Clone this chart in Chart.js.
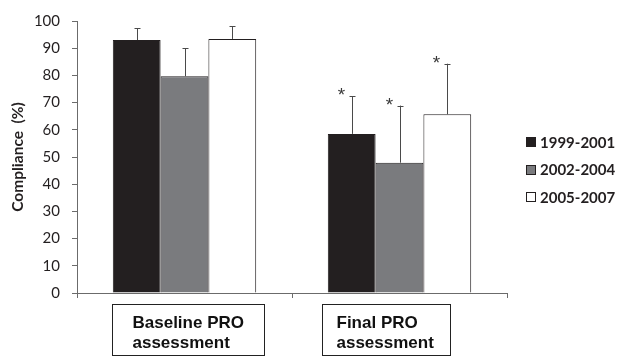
<!DOCTYPE html>
<html>
<head>
<meta charset="utf-8">
<script src="https://cdn.jsdelivr.net/npm/chart.js@4.4.1/dist/chart.umd.min.js"></script>
<style>
  html, body { margin: 0; padding: 0; background: #fff; }
  #wrap { width: 618px; height: 358px; position: relative; }
</style>
</head>
<body>
<div id="wrap"><canvas id="c"></canvas></div>
<script>
// categories (each label is two lines, drawn inside a box under the axis)
const categories = [["Baseline PRO", "assessment"], ["Final PRO", "assessment"]];
const seriesLabels = ["1999-2001", "2002-2004", "2005-2007"];

// mean compliance (%) per category
const values1999 = [93.0, 58.5];
const values2002 = [79.7, 47.9];
const values2005 = [93.4, 65.7];

// upper error bar (SD) per category
const err1999 = [4.3, 13.9];
const err2002 = [10.2, 21.0];
const err2005 = [4.7, 18.6];

// significance markers (*) per category
const sig1999 = [false, true];
const sig2002 = [false, true];
const sig2005 = [false, true];

const yMin = 0, yMax = 100, yStep = 10;

const INK = "#231f20";
const AXIS = "#6b6b6b";

const datasets = [
  { label: seriesLabels[0], data: values1999, err: err1999, sig: sig1999, backgroundColor: "#231f20" },
  { label: seriesLabels[1], data: values2002, err: err2002, sig: sig2002, backgroundColor: "#7a7b7e" },
  { label: seriesLabels[2], data: values2005, err: err2005, sig: sig2005, backgroundColor: "#ffffff" }
].map(d => Object.assign(d, { borderColor: INK, borderWidth: 1, borderSkipped: "bottom" }));

// error bars (upward only) + asterisks
const errorBars = {
  id: "errorBars",
  afterDatasetsDraw(chart) {
    const ctx = chart.ctx;
    const y = chart.scales.y;
    ctx.save();
    chart.data.datasets.forEach((ds, i) => {
      chart.getDatasetMeta(i).data.forEach((bar, j) => {
        const top = y.getPixelForValue(ds.data[j] + ds.err[j]);
        const x = Math.round(bar.x) + 0.5;
        ctx.strokeStyle = "#4a4a4a";
        ctx.lineWidth = 1;
        ctx.beginPath();
        ctx.moveTo(x, bar.y);
        ctx.lineTo(x, top);
        ctx.moveTo(x - 3, Math.round(top) + 0.5);
        ctx.lineTo(x + 3, Math.round(top) + 0.5);
        ctx.stroke();
        if (ds.sig[j]) {
          ctx.fillStyle = "#3a3a3a";
          ctx.font = "19px 'Liberation Sans'";
          ctx.textAlign = "center";
          ctx.textBaseline = "alphabetic";
          ctx.fillText("*", x - 11, top + 5);
        }
      });
    });
    ctx.restore();
  }
};

// boxed category labels under the x axis
const boxedLabels = {
  id: "boxedLabels",
  afterDraw(chart) {
    const ctx = chart.ctx;
    const x = chart.scales.x;
    const boxLeft = [-73, -78];   // offset of box from category centre
    const boxWidth = [152, 128];
    const textPad = [20, 14];
    ctx.save();
    ctx.font = "bold 17px 'Liberation Sans'";
    ctx.fillStyle = "#111";
    ctx.strokeStyle = "#222";
    ctx.lineWidth = 1;
    ctx.textAlign = "left";
    ctx.textBaseline = "alphabetic";
    categories.forEach((lines, i) => {
      const cx = x.getPixelForValue(i);
      const left = Math.round(cx + boxLeft[i]) + 0.5;
      const top = chart.chartArea.bottom + 11.5;
      ctx.strokeRect(left, top, boxWidth[i], 51);
      lines.forEach((t, k) => {
        ctx.fillText(t, left + textPad[i], top + 23 + k * 20);
      });
    });
    ctx.restore();
  }
};

// legend to the right of the plot
const sideLegend = {
  id: "sideLegend",
  afterDraw(chart) {
    const ctx = chart.ctx;
    const x0 = chart.chartArea.right + 19;
    ctx.save();
    ctx.font = "bold 15px Lato";
    ctx.textBaseline = "middle";
    ctx.textAlign = "left";
    chart.data.datasets.forEach((ds, i) => {
      const cy = 142 + i * 27.5;
      ctx.fillStyle = ds.backgroundColor;
      ctx.fillRect(x0, Math.round(cy - 5), 10, 10);
      ctx.strokeStyle = INK;
      ctx.lineWidth = 1;
      ctx.strokeRect(x0 + 0.5, Math.round(cy - 5) + 0.5, 9, 9);
      ctx.fillStyle = INK;
      ctx.fillText(ds.label, x0 + 14, cy + 1);
    });
    ctx.restore();
  }
};

new Chart(document.getElementById("c"), {
  type: "bar",
  data: { labels: categories, datasets },
  plugins: [errorBars, boxedLabels, sideLegend],
  options: {
    responsive: true,
    maintainAspectRatio: false,
    animation: false,
    layout: { padding: { top: 11, right: 111, bottom: 0, left: 0 } },
    plugins: { legend: { display: false }, tooltip: { enabled: false } },
    datasets: { bar: { categoryPercentage: 0.667, barPercentage: 1 } },
    scales: {
      x: {
        ticks: { display: false },
        grid: { drawOnChartArea: false, drawTicks: true, tickLength: 5, color: AXIS },
        border: { color: AXIS, width: 1 },
        afterFit(scale) { scale.height = 65; }
      },
      y: {
        min: yMin,
        max: yMax,
        ticks: { stepSize: yStep, padding: 12, color: INK, font: { family: "Lato", size: 15 } },
        grid: { drawOnChartArea: false, drawTicks: true, tickLength: 5, color: AXIS },
        border: { color: AXIS, width: 1 },
        title: {
          display: true,
          text: "Compliance  (%)",
          color: INK,
          font: { family: "Lato", size: 15.5, weight: "bold" },
          padding: { top: 9, bottom: 0 }
        },
        afterFit(scale) { scale.width = 77; }
      }
    }
  }
});
</script>
</body>
</html>
